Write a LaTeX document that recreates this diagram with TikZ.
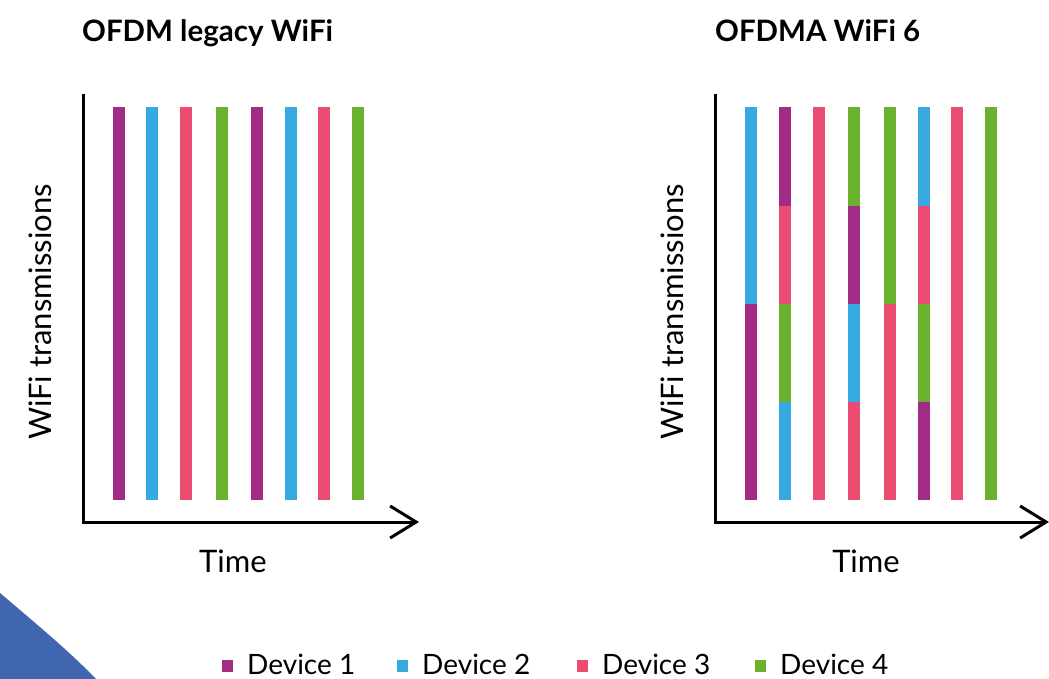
\documentclass[tikz,border=0pt]{standalone}
\usepackage{fontspec}
\setmainfont{Lato}
\usetikzlibrary{arrows.meta}

\definecolor{dev1}{RGB}{162,43,134}
\definecolor{dev2}{RGB}{54,169,224}
\definecolor{dev3}{RGB}{236,76,114}
\definecolor{dev4}{RGB}{106,178,46}
\definecolor{corner}{RGB}{63,102,174}

\tikzset{
  axis/.style={line width=3pt, -{Straight Barb[length=26pt,width=32pt]}},
  title/.style={anchor=base west, inner sep=0pt, font=\fontsize{29.5}{36}\selectfont\bfseries},
  axlabel/.style={anchor=base, font=\fontsize{31}{36}\selectfont},
  legtext/.style={anchor=base west, inner sep=0pt, font=\fontsize{28}{34}\selectfont},
}

\begin{document}
\begin{tikzpicture}[x=1pt,y=-1pt]
    \useasboundingbox (0,0) rectangle (1049,679);

    % corner decoration
    \fill[corner] (0,593) .. controls (40,627) and (70,652) .. (96,679) -- (0,679) -- cycle;

    \node[title] (ofdm) at (82,42) {OFDM legacy WiFi};
    \node[title] (ofdma) at (715,42) {OFDMA WiFi 6};

    % left chart
    \coordinate (ltop) at (83,94);
    \coordinate (lend) at (419,522);
    \draw[axis] (ltop) |- (lend);
    \node[axlabel, rotate=90] (lylab) at (51,312) {WiFi transmissions};
    \node[axlabel] (lxlab) at (233,572) {Time};

    \foreach \x/\c in {113/dev1,146/dev2,180/dev3,216/dev4,251/dev1,285/dev2,318/dev3,352/dev4}
        \fill[\c] (\x,107.5) rectangle ++(11.5,392);

    % right chart
    \coordinate (rtop) at (715,94);
    \coordinate (rend) at (1049,522);
    \draw[axis] (rtop) |- (rend);
    \node[axlabel, rotate=90] (rylab) at (683,312) {WiFi transmissions};
    \node[axlabel] (rxlab) at (866,572) {Time};

    \foreach \x/\cols in {745/{dev2,dev2,dev1,dev1},779/{dev1,dev3,dev4,dev2},
                          813/{dev3,dev3,dev3,dev3},848/{dev4,dev1,dev2,dev3},
                          884/{dev4,dev4,dev3,dev3},918/{dev2,dev3,dev4,dev1},
                          951/{dev3,dev3,dev3,dev3},985/{dev4,dev4,dev4,dev4}}
        \foreach \c [count=\i from 0] in \cols
            \fill[\c] (\x,107.5+98.1*\i) rectangle ++(11.5,98.1);

    % legend
    \foreach \x/\c/\n in {222/dev1/1,397/dev2/2,577/dev3/3,755/dev4/4}{
        \fill[\c] (\x,660) rectangle ++(11,12);
        \node[legtext] (leg\n) at (\x+25,674) {Device \n};
    }
\end{tikzpicture}
\end{document}
